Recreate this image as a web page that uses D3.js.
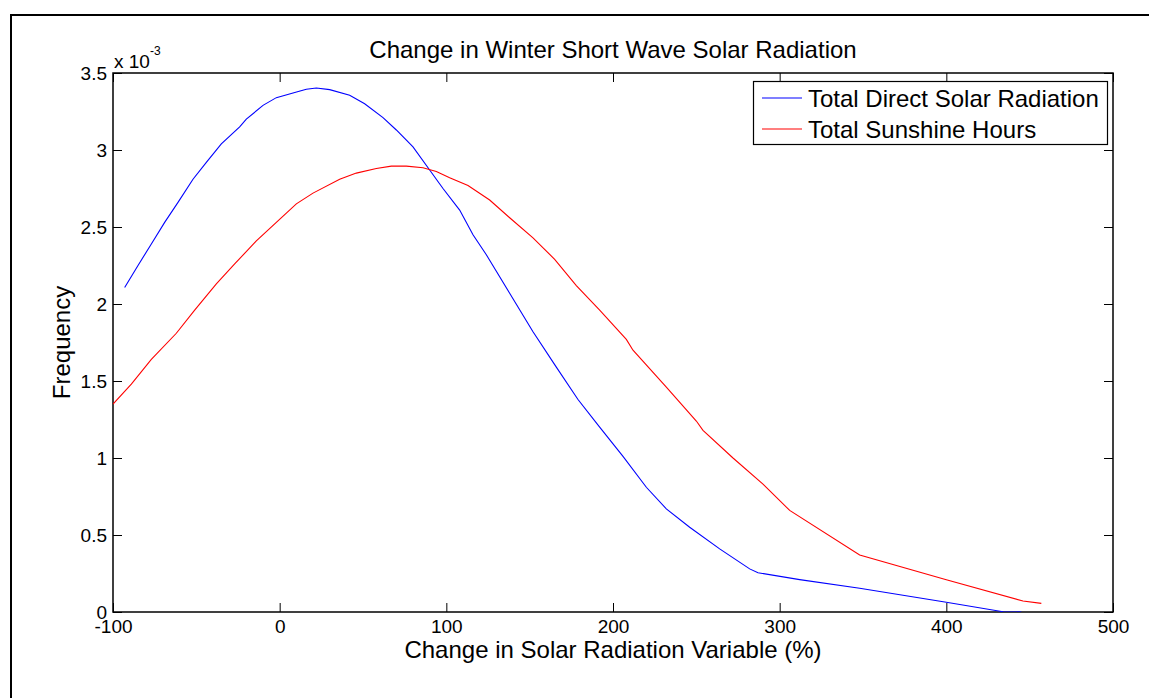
<!DOCTYPE html>
<html>
<head>
<meta charset="utf-8">
<script src="https://cdn.jsdelivr.net/npm/d3@7"></script>
<style>
  html, body { margin: 0; padding: 0; background: #fff; }
  svg { display: block; font-family: "Liberation Sans", Arial, Helvetica, sans-serif; }
</style>
</head>
<body>
<svg id="chart" width="1149" height="698"></svg>
<script>
// ---- Data (frequency values in units of 10^-3) ----
const chartTitle = "Change in Winter Short Wave Solar Radiation";
const xLabel = "Change in Solar Radiation Variable (%)";
const yLabel = "Frequency";
const seriesNames = ["Total Direct Solar Radiation", "Total Sunshine Hours"];
const seriesColors = ["#0000ff", "#ff0000"];

const directX = [-93, -85, -77, -69, -61, -52, -44, -35, -24, -20, -10, -2, 8, 16, 22, 30, 42, 51, 62, 70, 80, 90, 98, 108, 116, 124, 138, 152, 166, 179, 192, 206, 220, 232, 246, 264, 282, 287, 312, 348, 400, 434, 445];
const directY = [2.107, 2.25, 2.39, 2.53, 2.66, 2.81, 2.92, 3.04, 3.15, 3.20, 3.29, 3.34, 3.37, 3.395, 3.403, 3.392, 3.355, 3.30, 3.21, 3.13, 3.02, 2.87, 2.75, 2.61, 2.45, 2.32, 2.07, 1.82, 1.59, 1.38, 1.20, 1.01, 0.81, 0.67, 0.55, 0.41, 0.28, 0.255, 0.21, 0.154, 0.063, 0.002, 0.0];

const sunshineX = [-100, -89, -77, -62, -51, -38, -27, -14, -2, 10, 20, 36, 46, 58, 67, 76, 86, 94, 102, 113, 126, 138, 152, 165, 178, 192, 208, 212, 232, 250, 254, 272, 290, 306, 348, 400, 446, 457];
const sunshineY = [1.35, 1.48, 1.64, 1.81, 1.96, 2.13, 2.26, 2.41, 2.53, 2.65, 2.72, 2.81, 2.85, 2.88, 2.895, 2.895, 2.885, 2.86, 2.82, 2.77, 2.675, 2.56, 2.43, 2.29, 2.12, 1.96, 1.77, 1.70, 1.46, 1.24, 1.18, 1.00, 0.83, 0.66, 0.37, 0.21, 0.071, 0.056];

const xTicks = [-100, 0, 100, 200, 300, 400, 500];
const yTicks = [0, 0.5, 1, 1.5, 2, 2.5, 3, 3.5];
const yMultiplierBase = "x 10";
const yMultiplierExp = "-3";

// ---- Layout ----
const svg = d3.select("#chart");
const W = 1149, H = 698;
const plot = { left: 113, right: 1113, top: 73, bottom: 612 };

svg.append("rect").attr("width", W).attr("height", H).attr("fill", "#fff");

// figure border (partially visible)
svg.append("path")
  .attr("d", `M11,${H} L11,15 L${W},15`)
  .attr("fill", "none").attr("stroke", "#000").attr("stroke-width", 2);

const x = d3.scaleLinear().domain([-100, 500]).range([plot.left, plot.right]);
const y = d3.scaleLinear().domain([0, 3.5]).range([plot.bottom, plot.top]);

const tickLen = 9;
const fmt = d => String(d);

function styleAxis(g) {
  g.selectAll(".domain").remove();
  g.selectAll(".tick line").attr("stroke", "#000").attr("stroke-width", 1);
  g.selectAll(".tick text").attr("fill", "#000").attr("font-size", 19)
    .attr("font-family", "Liberation Sans, Arial, sans-serif");
}

svg.append("g").attr("transform", `translate(0,${plot.bottom})`)
  .call(d3.axisBottom(x).tickValues(xTicks).tickFormat(fmt).tickSizeInner(-tickLen).tickSizeOuter(0).tickPadding(8))
  .call(styleAxis);
svg.append("g").attr("transform", `translate(0,${plot.top})`)
  .call(d3.axisTop(x).tickValues(xTicks).tickFormat("").tickSizeInner(-tickLen).tickSizeOuter(0))
  .call(styleAxis);
svg.append("g").attr("transform", `translate(${plot.left},0)`)
  .call(d3.axisLeft(y).tickValues(yTicks).tickFormat(fmt).tickSizeInner(-tickLen).tickSizeOuter(0).tickPadding(6))
  .call(styleAxis);
svg.append("g").attr("transform", `translate(${plot.right},0)`)
  .call(d3.axisRight(y).tickValues(yTicks).tickFormat("").tickSizeInner(-tickLen).tickSizeOuter(0))
  .call(styleAxis);

// axes box
svg.append("rect")
  .attr("x", plot.left).attr("y", plot.top)
  .attr("width", plot.right - plot.left).attr("height", plot.bottom - plot.top)
  .attr("fill", "none").attr("stroke", "#000").attr("stroke-width", 1.5);

// lines
svg.append("clipPath").attr("id", "clip").append("rect")
  .attr("x", plot.left).attr("y", plot.top)
  .attr("width", plot.right - plot.left).attr("height", plot.bottom - plot.top);

const line = d3.line().x(d => x(d[0])).y(d => y(d[1]));
const series = [
  d3.zip(directX, directY),
  d3.zip(sunshineX, sunshineY)
];
series.forEach((s, i) => {
  svg.append("path").datum(s)
    .attr("clip-path", "url(#clip)")
    .attr("d", line)
    .attr("fill", "none")
    .attr("stroke", seriesColors[i])
    .attr("stroke-width", 1.1);
});

// title & labels
svg.append("text").attr("x", (plot.left + plot.right) / 2).attr("y", 58)
  .attr("text-anchor", "middle").attr("font-size", 24).attr("fill", "#000").text(chartTitle);
svg.append("text").attr("x", (plot.left + plot.right) / 2).attr("y", 658)
  .attr("text-anchor", "middle").attr("font-size", 24).attr("fill", "#000").text(xLabel);
svg.append("text").attr("transform", `translate(70,${(plot.top + plot.bottom) / 2}) rotate(-90)`)
  .attr("text-anchor", "middle").attr("font-size", 24).attr("fill", "#000").text(yLabel);

// multiplier
svg.append("text").attr("x", plot.left + 1).attr("y", 68)
  .attr("font-size", 19).attr("fill", "#000").text(yMultiplierBase);
svg.append("text").attr("x", plot.left + 37).attr("y", 55)
  .attr("font-size", 12).attr("fill", "#000").text(yMultiplierExp);

// legend
const lg = { x: 753.5, y: 81.5, w: 354, h: 63 };
svg.append("rect").attr("x", lg.x).attr("y", lg.y).attr("width", lg.w).attr("height", lg.h)
  .attr("fill", "#fff").attr("stroke", "#000").attr("stroke-width", 1.2);
const rowY = [98, 129];
seriesNames.forEach((name, i) => {
  svg.append("line").attr("x1", 762).attr("x2", 802).attr("y1", rowY[i]).attr("y2", rowY[i])
    .attr("stroke", seriesColors[i]).attr("stroke-width", 1.1);
  svg.append("text").attr("x", 808).attr("y", rowY[i] + 8.5)
    .attr("font-size", 24).attr("fill", "#000").text(name);
});
</script>
</body>
</html>
